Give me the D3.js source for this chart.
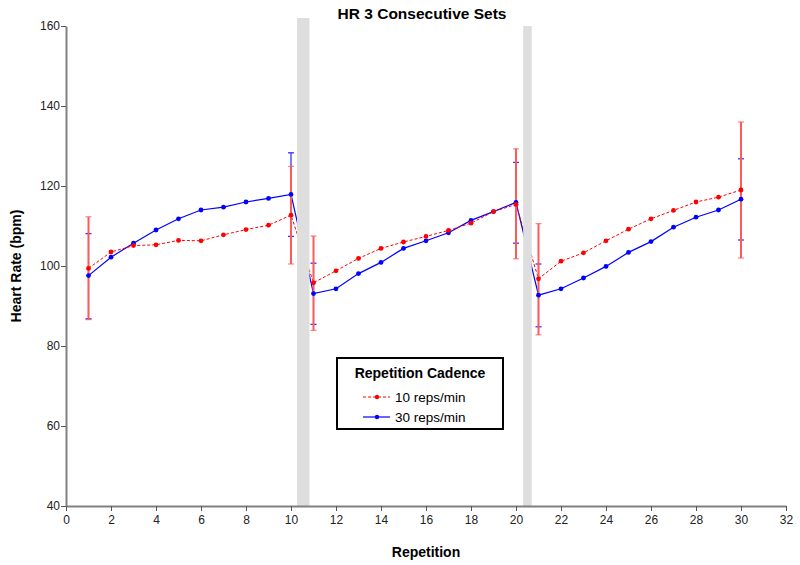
<!DOCTYPE html>
<html><head><meta charset="utf-8">
<script src="https://cdn.jsdelivr.net/npm/d3@7"></script>
<style>body{margin:0;background:#fff}svg{display:block;font-family:Arial,"Liberation Sans",sans-serif}</style>
</head><body><svg id="c" width="800" height="565"></svg>
<script>
const reps = d3.range(1, 31);
const slow = [99.4,103.5,105.1,105.3,106.4,106.3,107.8,109.1,110.2,112.7,
              95.8,98.8,101.9,104.4,106.0,107.4,108.9,110.7,113.6,115.4,
              96.8,101.2,103.3,106.3,109.2,111.8,113.9,116.0,117.2,119.0];
const fast = [97.6,102.2,105.7,109.0,111.8,114.0,114.7,116.0,116.9,117.9,
              93.1,94.3,98.1,100.9,104.4,106.3,108.3,111.4,113.6,115.9,
              92.7,94.3,97.0,99.9,103.4,106.1,109.7,112.2,114.0,116.7];
const errReps = [1, 10, 11, 20, 21, 30];
const slowHi = [112.3,124.9,107.5,129.3,110.6,136.0];
const slowLo = [86.6,100.5,83.9,101.8,82.8,102.0];
const fastHi = [108.1,128.3,100.7,125.9,100.5,126.8];
const fastLo = [86.8,107.4,85.4,105.7,84.8,106.5];
const breaks = [[10.27,10.82,162],[20.32,20.7,160]];
const xTicks = d3.range(0, 33, 2);
const yTicks = d3.range(40, 161, 20);
const seriesNames = ["10 reps/min","30 reps/min"];

const svg = d3.select("#c");
const x = d3.scaleLinear().domain([0,32]).range([66,786]);
const y = d3.scaleLinear().domain([40,160]).range([506,26]);

function errBars(hi, lo, color, w, capOp){
  const g = svg.append("g").attr("stroke", color);
  errReps.forEach((r,i)=>{
    g.append("line").attr("x1",x(r)).attr("x2",x(r)).attr("y1",y(hi[i])).attr("y2",y(lo[i])).attr("stroke-width",w);
    [hi[i],lo[i]].forEach(v=>g.append("line").attr("x1",x(r)-3).attr("x2",x(r)+3).attr("y1",y(v)).attr("y2",y(v)).attr("stroke-width",1.3).attr("stroke-opacity",capOp));
  });
}
errBars(fastHi, fastLo, "#1010ff", 1.1, 0.85);

const line = d3.line().x((d,i)=>x(reps[i])).y(d=>y(d));
svg.append("path").datum(fast).attr("d",line).attr("fill","none").attr("stroke","#0000ff").attr("stroke-width",1.2);
svg.append("path").datum(slow).attr("d",line).attr("fill","none").attr("stroke","#ff0000").attr("stroke-width",1).attr("stroke-dasharray","3,2");
errBars(slowHi, slowLo, "#ff5a5a", 2, 0.7);
svg.append("g").selectAll("circle").data(fast).join("circle").attr("cx",(d,i)=>x(reps[i])).attr("cy",d=>y(d)).attr("r",2.4).attr("fill","#0000ff");
svg.append("g").selectAll("circle").data(slow).join("circle").attr("cx",(d,i)=>x(reps[i])).attr("cy",d=>y(d)).attr("r",2.4).attr("fill","#ff0000");

breaks.forEach(b=>svg.append("rect").attr("x",x(b[0])).attr("width",x(b[1])-x(b[0])).attr("y",y(b[2])).attr("height",y(40)-y(b[2])).attr("fill","#dedede"));

const xa = svg.append("g").attr("transform","translate(0,506)").call(d3.axisBottom(x).tickValues(xTicks).tickSize(5).tickSizeOuter(0).tickFormat(d3.format("d")));
const ya = svg.append("g").attr("transform","translate(66,0)").call(d3.axisLeft(y).tickValues(yTicks).tickSize(5).tickSizeOuter(0).tickFormat(d3.format("d")));
[xa,ya].forEach(a=>{
  a.select(".domain").attr("stroke","#808080").attr("stroke-width",2);
  a.selectAll(".tick line").attr("stroke","#555").attr("stroke-width",1);
  a.selectAll(".tick text").attr("font-size",12).attr("fill","#222").attr("font-family","Arial, 'Liberation Sans', sans-serif");
});
ya.selectAll(".tick text").attr("x",-6);
xa.selectAll(".tick text").attr("y",9);

svg.append("text").attr("x",422).attr("y",19).attr("text-anchor","middle").attr("font-size",15.5).attr("font-weight","bold").text("HR 3 Consecutive Sets");
svg.append("text").attr("x",426).attr("y",557).attr("text-anchor","middle").attr("font-size",14).attr("font-weight","bold").text("Repetition");
svg.append("text").attr("transform","translate(21,266) rotate(-90)").attr("text-anchor","middle").attr("font-size",14).attr("font-weight","bold").text("Heart Rate (bpm)");

const lg = svg.append("g");
lg.append("rect").attr("x",337).attr("y",358).attr("width",166).attr("height",71).attr("fill","#fff").attr("stroke","#000").attr("stroke-width",2);
lg.append("text").attr("x",420).attr("y",378).attr("text-anchor","middle").attr("font-size",14).attr("font-weight","bold").text("Repetition Cadence");
const lc = [["#ff0000","3,2",1],["#0000ff",null,1.2]];
seriesNames.forEach((n,i)=>{
  const yy = 397 + i*20;
  lg.append("line").attr("x1",363).attr("x2",390).attr("y1",yy).attr("y2",yy).attr("stroke",lc[i][0]).attr("stroke-width",lc[i][2]).attr("stroke-dasharray",lc[i][1]);
  lg.append("circle").attr("cx",377).attr("cy",yy).attr("r",2.2).attr("fill",lc[i][0]);
  lg.append("text").attr("x",395).attr("y",yy+5).attr("font-size",13.5).text(n);
});
</script></body></html>
